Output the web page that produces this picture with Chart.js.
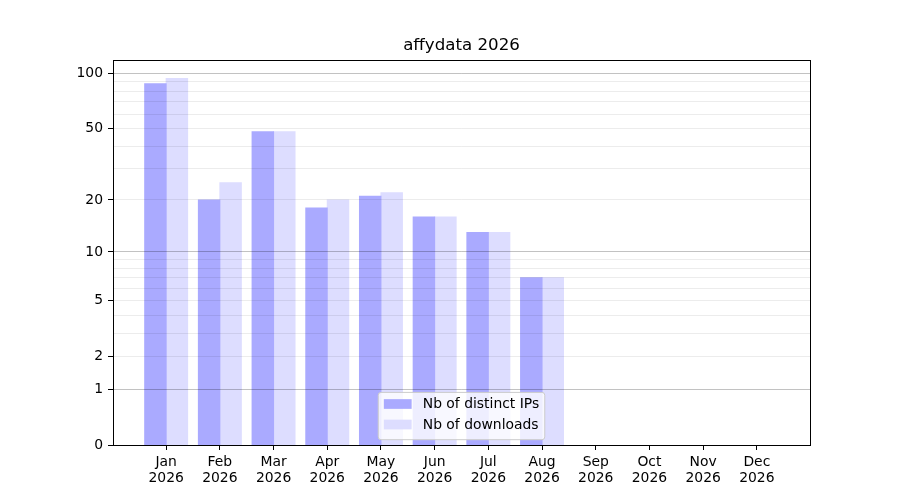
<!DOCTYPE html>
<html><head><meta charset="utf-8">
<script src="https://cdn.jsdelivr.net/npm/chart.js@4.4.1/dist/chart.umd.min.js"></script>
<style>html,body{margin:0;padding:0;background:#fff}canvas{display:block}</style>
</head><body>
<canvas id="c" width="900" height="500"></canvas>
<script>
const chartTitle = 'affydata 2026';
const months = ['Jan','Feb','Mar','Apr','May','Jun','Jul','Aug','Sep','Oct','Nov','Dec'];
const yearLabel = '2026';
const seriesNames = ['Nb of distinct IPs', 'Nb of downloads'];
const distinctIPs = [88, 20, 48, 18, 21, 16, 13, 7];
const downloads = [94, 25, 48, 20, 22, 16, 13, 7];
const yTickValues = [0,1,2,3,4,5,6,7,8,9,10,20,30,40,50,60,70,80,90,100];
const yTickLabels = [0,1,2,5,10,20,50,100];
const yMajorGrid = [1,10,100];
const yTopValue = 118.5;

const tf = v => Math.log10(1 + v);
const toPoints = arr => arr.map((v, i) => ({x: i, y: tf(v)}));

Chart.defaults.font.family = '"DejaVu Sans", sans-serif';
Chart.defaults.color = '#000';

const overlay = {
  id: 'overlay',
  afterDraw(chart) {
    const {ctx, chartArea: a} = chart;
    ctx.save();
    // axes frame
    ctx.strokeStyle = '#000';
    ctx.lineWidth = 1;
    ctx.strokeRect(Math.round(a.left) + 0.5, Math.round(a.top) + 0.5,
                   Math.round(a.right - a.left), Math.round(a.bottom - a.top));
    // legend
    const fs = 13.9;
    ctx.font = fs + 'px "DejaVu Sans"';
    const names = chart.data.datasets.map(d => d.label);
    const tw = Math.max(...names.map(s => ctx.measureText(s).width));
    const pad = 5.6, hw = 27.8, hgap = 11.1;
    const w = pad + hw + hgap + tw + pad;
    const h = 47.3;
    const cx = (a.left + a.right) / 2;
    const x0 = cx - w / 2, y1 = a.bottom - 5.3, y0 = y1 - h;
    const r = 2.8;
    ctx.beginPath();
    ctx.moveTo(x0 + r, y0);
    ctx.lineTo(x0 + w - r, y0);
    ctx.arcTo(x0 + w, y0, x0 + w, y0 + r, r);
    ctx.lineTo(x0 + w, y1 - r);
    ctx.arcTo(x0 + w, y1, x0 + w - r, y1, r);
    ctx.lineTo(x0 + r, y1);
    ctx.arcTo(x0, y1, x0, y1 - r, r);
    ctx.lineTo(x0, y0 + r);
    ctx.arcTo(x0, y0, x0 + r, y0, r);
    ctx.closePath();
    ctx.fillStyle = 'rgba(255,255,255,0.8)';
    ctx.fill();
    ctx.strokeStyle = '#cccccc';
    ctx.stroke();
    const rows = [y0 + 11.6, y0 + 32.1];
    chart.data.datasets.forEach((d, i) => {
      const cy = rows[i];
      ctx.fillStyle = d.backgroundColor;
      ctx.fillRect(x0 + pad, cy - 4.85, hw, 9.7);
      ctx.fillStyle = '#000';
      ctx.textAlign = 'left';
      ctx.textBaseline = 'middle';
      ctx.fillText(d.label, x0 + pad + hw + hgap, cy + 0.5);
    });
    ctx.restore();
  }
};

new Chart(document.getElementById('c'), {
  type: 'bar',
  data: {
    datasets: [
      {label: seriesNames[0], data: toPoints(distinctIPs), backgroundColor: '#aaaaff',
       categoryPercentage: 0.8, barPercentage: 1.0, borderWidth: 0, inflateAmount: 0.5},
      {label: seriesNames[1], data: toPoints(downloads), backgroundColor: '#ddddff',
       categoryPercentage: 0.8, barPercentage: 1.0, borderWidth: 0, inflateAmount: 0.5}
    ]
  },
  options: {
    responsive: false,
    animation: false,
    devicePixelRatio: 1,
    layout: {padding: {left: 0, right: 90, top: 0, bottom: 0}},
    plugins: {
      legend: {display: false},
      tooltip: {enabled: false},
      title: {
        display: true, text: chartTitle, color: '#000', fullSize: false,
        font: {size: 16.67, weight: 'normal', lineHeight: 1.2},
        padding: {top: 36, bottom: 4}
      }
    },
    scales: {
      x: {
        type: 'linear', min: -0.99, max: 11.99, offset: false,
        afterBuildTicks: s => { s.ticks = months.map((m, i) => ({value: i})); },
        afterFit: s => { s.height = 55; },
        grid: {offset: false, drawOnChartArea: false, drawTicks: true, tickLength: 5, tickColor: '#000', lineWidth: 1},
        border: {display: false},
        ticks: {
          autoSkip: false, maxRotation: 0, padding: 5,
          font: {size: 13.9, lineHeight: 1.12}, color: '#000',
          callback: v => [months[Math.round(v)], yearLabel]
        }
      },
      y: {
        type: 'linear', min: 0, max: tf(yTopValue),
        afterBuildTicks: s => { s.ticks = yTickValues.map(v => ({value: tf(v)})); },
        afterFit: s => { s.width = 113; },
        border: {display: false},
        grid: {
          z: 1,
          drawTicks: true, tickLength: 5, lineWidth: 1,
          color: c => {
            const raw = yTickValues[c.index];
            if (raw === 0) return 'rgba(0,0,0,0)';
            return yMajorGrid.includes(raw) ? 'rgba(0,0,0,0.24)' : 'rgba(0,0,0,0.075)';
          },
          tickColor: c => yTickLabels.includes(yTickValues[c.index]) ? '#000' : 'rgba(0,0,0,0)'
        },
        ticks: {
          padding: 5, font: {size: 13.9}, color: '#000', autoSkip: false,
          callback: (v, i) => yTickLabels.includes(yTickValues[i]) ? String(yTickValues[i]) : ''
        }
      }
    }
  },
  plugins: [overlay]
});
</script>
</body></html>
